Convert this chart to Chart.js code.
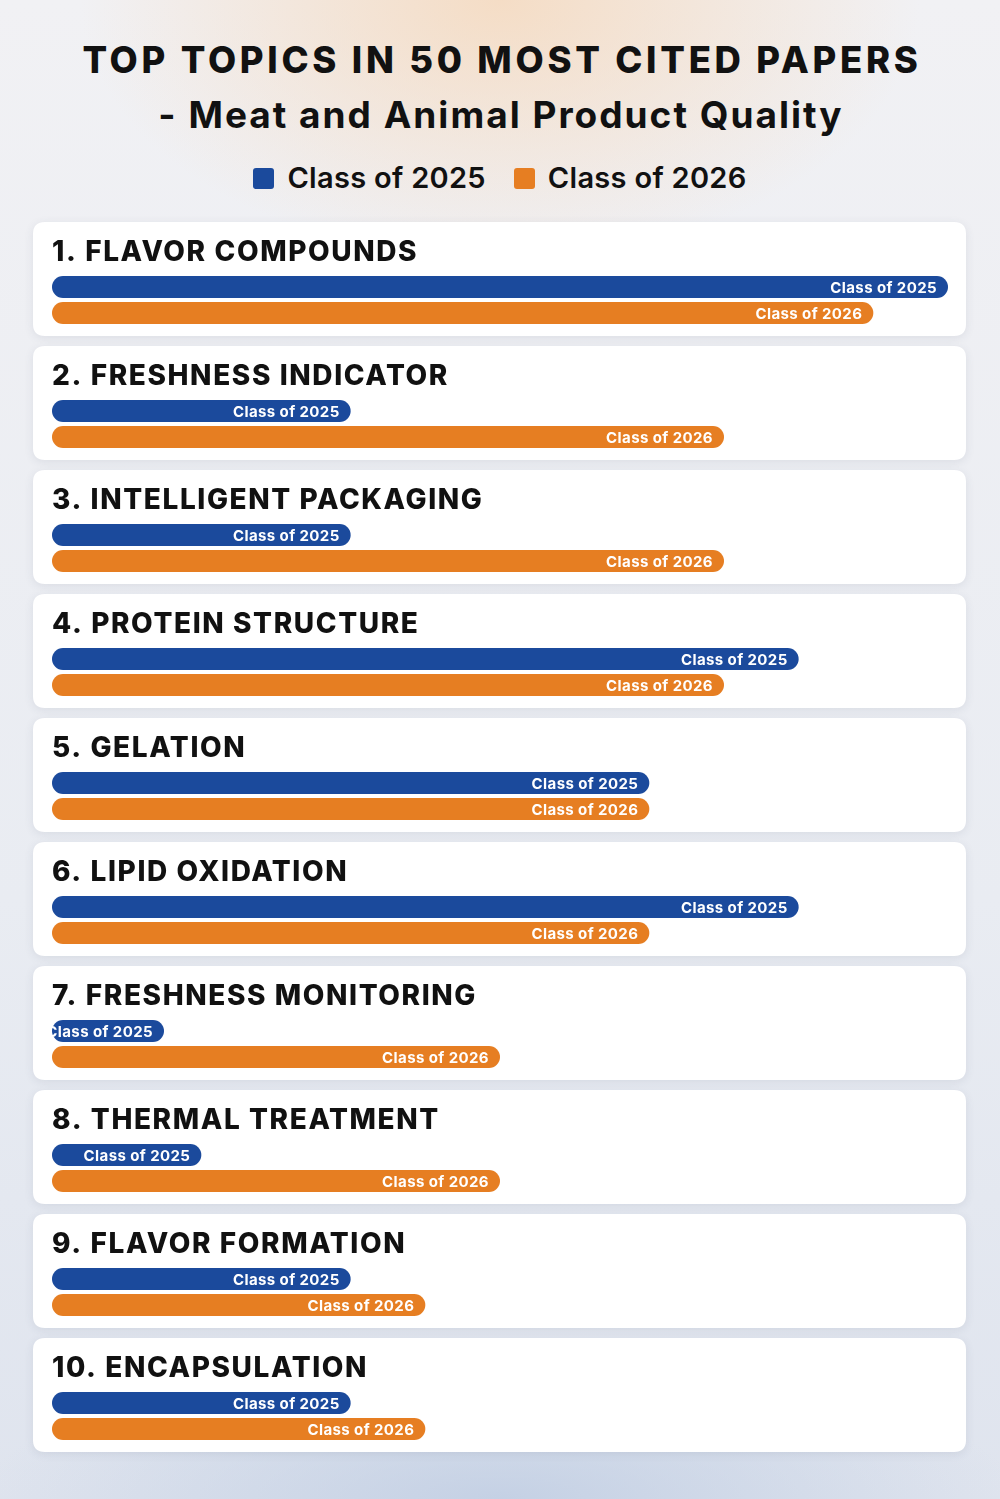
<!DOCTYPE html>
<html>
<head>
<meta charset="utf-8">
<script src="https://cdn.jsdelivr.net/npm/chart.js@4.4.1/dist/chart.umd.min.js"></script>
<style>
  html, body { margin:0; padding:0; }
  body {
    width:1000px; height:1499px; overflow:hidden; position:relative;
    font-family: Inter, "Open Sans", sans-serif;
    background:
      radial-gradient(ellipse 420px 260px at 50% 0%, rgba(246,214,182,0.75), rgba(246,214,182,0) 100%),
      radial-gradient(ellipse 520px 140px at 50% 100%, rgba(190,204,226,0.8), rgba(190,204,226,0) 100%),
      linear-gradient(180deg, #f1f1f4 0%, #e9ecf2 60%, #dfe4ee 100%);
  }
  #head { position:absolute; left:0; top:0; width:1000px; text-align:center; color:#111; }
  #t1 { position:absolute; left:2px; width:1000px; top:36px; font-size:36.5px; font-weight:800; letter-spacing:3.7px; line-height:48px; }
  #t2 { position:absolute; left:1px; width:1000px; top:91px; font-size:37px; font-weight:700; letter-spacing:2px; line-height:48px; }
  #legend { position:absolute; left:0; width:1000px; top:158px; display:flex; justify-content:center; align-items:center; font-size:29px; font-weight:600; letter-spacing:0.3px; line-height:40px; }
  .sw { width:21px; height:21px; border-radius:3px; display:inline-block; margin-right:13px; }
  .item { display:flex; align-items:center; margin:0 14px; }
  #wrap { position:absolute; left:0; top:0; width:1000px; height:1499px; }
</style>
</head>
<body>
<div id="head">
  <div id="t1">TOP TOPICS IN 50 MOST CITED PAPERS</div>
  <div id="t2">- Meat and Animal Product Quality</div>
  <div id="legend"></div>
</div>
<div id="wrap"><canvas id="c"></canvas></div>
<script>
const topics = [
  "1. FLAVOR COMPOUNDS",
  "2. FRESHNESS INDICATOR",
  "3. INTELLIGENT PACKAGING",
  "4. PROTEIN STRUCTURE",
  "5. GELATION",
  "6. LIPID OXIDATION",
  "7. FRESHNESS MONITORING",
  "8. THERMAL TREATMENT",
  "9. FLAVOR FORMATION",
  "10. ENCAPSULATION"
];
const seriesNames = ["Class of 2025", "Class of 2026"];
const class2025 = [12, 4, 4, 10, 8, 10, 1.5, 2, 4, 4];
const class2026 = [11, 9, 9, 9, 8, 8, 6, 6, 5, 5];
const seriesColors = ["#1b4a9c", "#e67e22"];
const xMax = 12;

// legend
const lg = document.getElementById('legend');
seriesNames.forEach((n, i) => {
  const it = document.createElement('div'); it.className = 'item';
  const sw = document.createElement('span'); sw.className = 'sw'; sw.style.background = seriesColors[i];
  const tx = document.createElement('span'); tx.textContent = n;
  it.appendChild(sw); it.appendChild(tx); lg.appendChild(it);
});

function rr(ctx, x, y, w, h, r) {
  ctx.beginPath();
  ctx.moveTo(x + r, y);
  ctx.lineTo(x + w - r, y); ctx.quadraticCurveTo(x + w, y, x + w, y + r);
  ctx.lineTo(x + w, y + h - r); ctx.quadraticCurveTo(x + w, y + h, x + w - r, y + h);
  ctx.lineTo(x + r, y + h); ctx.quadraticCurveTo(x, y + h, x, y + h - r);
  ctx.lineTo(x, y + r); ctx.quadraticCurveTo(x, y, x + r, y);
  ctx.closePath();
}

const cardPlugin = {
  id: 'cards',
  beforeDatasetsDraw(chart) {
    const ctx = chart.ctx, ys = chart.scales.y;
    ctx.save();
    topics.forEach((t, i) => {
      const c = ys.getPixelForValue(i);
      const top = c - 78, h = 114;
      ctx.save();
      ctx.shadowColor = 'rgba(60,70,100,0.10)';
      ctx.shadowBlur = 10; ctx.shadowOffsetY = 2;
      ctx.fillStyle = '#ffffff';
      rr(ctx, 33, top, 933, h, 12);
      ctx.fill();
      ctx.restore();
      ctx.fillStyle = '#111111';
      ctx.font = '800 28px Inter, "Open Sans", sans-serif';
      ctx.textBaseline = 'middle';
      ctx.textAlign = 'left';
      if (ctx.letterSpacing !== undefined) ctx.letterSpacing = '1.6px';
      ctx.fillText(t, chart.chartArea.left, c - 47);
    });
    ctx.restore();
  },
  afterDatasetsDraw(chart) {
    const ctx = chart.ctx, area = chart.chartArea;
    ctx.save();
    ctx.beginPath();
    ctx.rect(area.left - 2, 0, area.right - area.left + 4, chart.height);
    ctx.clip();
    ctx.font = '700 15px Inter, "Open Sans", sans-serif';
    if (ctx.letterSpacing !== undefined) ctx.letterSpacing = '0.4px';
    ctx.fillStyle = '#ffffff';
    ctx.textAlign = 'right';
    ctx.textBaseline = 'middle';
    chart.data.datasets.forEach((ds, di) => {
      chart.getDatasetMeta(di).data.forEach(bar => {
        ctx.fillText(ds.label, bar.x - 11, bar.y + 1);
      });
    });
    ctx.restore();
  }
};

new Chart(document.getElementById('c'), {
  type: 'bar',
  data: {
    labels: topics,
    datasets: [
      { label: seriesNames[0], data: class2025, backgroundColor: seriesColors[0] },
      { label: seriesNames[1], data: class2026, backgroundColor: seriesColors[1] }
    ]
  },
  options: {
    indexAxis: 'y',
    responsive: true,
    maintainAspectRatio: false,
    devicePixelRatio: 1,
    animation: false,
    layout: { padding: { left: 52, right: 52, top: 238, bottom: 21 } },
    datasets: { bar: { categoryPercentage: 52/124, barPercentage: 22/26, borderRadius: 11, borderSkipped: false } },
    scales: {
      x: { display: false, min: 0, max: xMax, grid: { display: false } },
      y: { display: false, grid: { display: false } }
    },
    plugins: { legend: { display: false }, tooltip: { enabled: false } }
  },
  plugins: [cardPlugin]
});
</script>
</body>
</html>
